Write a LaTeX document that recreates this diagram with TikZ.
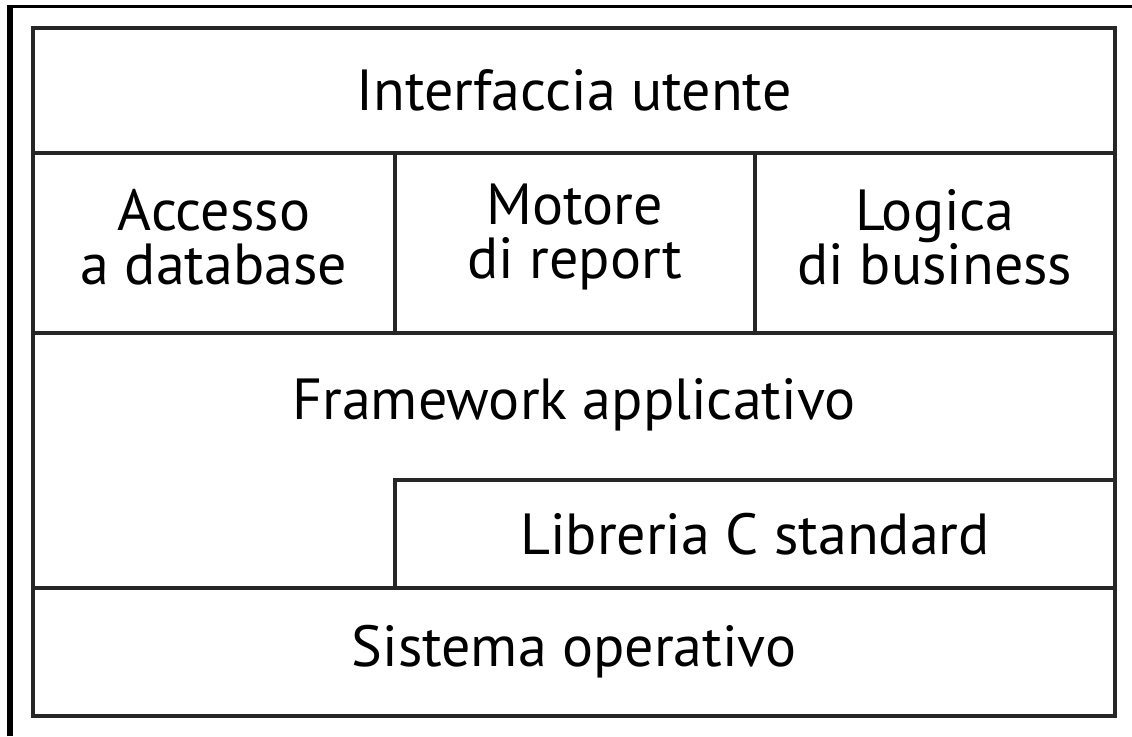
\documentclass[tikz,border=0pt]{standalone}
\usepackage{fontspec}
\setmainfont{PT Sans}
\begin{document}
\begin{tikzpicture}
    [x=0.5pt,y=-0.5pt,
     cell/.style={draw=black!85,line width=1.75pt,rectangle,inner sep=0pt,align=center,
       font=\fontsize{29}{27}\selectfont}]
    \useasboundingbox (0,0) rectangle (1132,736);
    % edge of the scan
    \draw[line width=3pt] (10,736) -- (10,5);
    \draw[line width=1.5pt] (7,6.5) -- (1132,6.5);
    % layers
    \node[cell,minimum width=541pt,minimum height=62.5pt] (ui) at (574,90.5) {Interfaccia utente};
    \node[cell,minimum width=181pt,minimum height=90pt] (db) at (214,243) {};
    \node[cell,minimum width=180pt,minimum height=90pt] (rep) at (575,243) {};
    \node[cell,minimum width=180pt,minimum height=90pt] (biz) at (935,243) {};
    \node[cell,draw=none] (dbname) at (214,237) {Accesso\\a database};
    \node[cell,draw=none] (repname) at (575,237) {Motore\\di report};
    \node[cell,draw=none] (bizname) at (935,237) {Logica\\di business};
    \node[cell,minimum width=541pt,minimum height=127.5pt] (fw) at (574,460.5) {};
    \node[cell,fill=white,minimum width=360pt,minimum height=54pt] (libc) at (755,534) {Libreria C standard};
    \node[cell,minimum width=541pt,minimum height=64pt] (os) at (574,652) {Sistema operativo};
    \node[cell,draw=none] (fwname) at (574,405) {Framework applicativo};
\end{tikzpicture}
\end{document}
